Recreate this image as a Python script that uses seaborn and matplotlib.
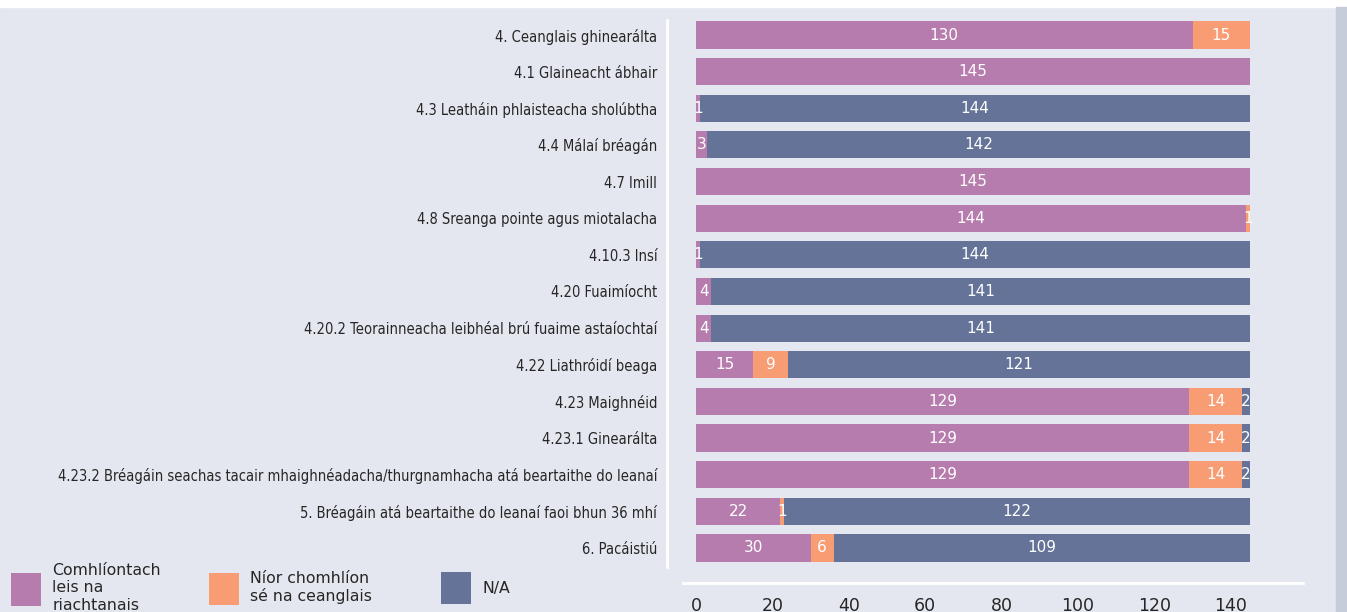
import numpy as np
import pandas as pd
import matplotlib.pyplot as plt
import matplotlib.patches as mpatches
import seaborn as sns

# ============================
# Data
# ============================

categories = [
    "4. Ceanglais ghinearálta",
    "4.1 Glaineacht ábhair",
    "4.3 Leatháin phlaisteacha sholúbtha",
    "4.4 Málaí bréagán",
    "4.7 Imill",
    "4.8 Sreanga pointe agus miotalacha",
    "4.10.3 Insí",
    "4.20 Fuaimíocht",
    "4.20.2 Teorainneacha leibhéal brú fuaime astaíochtaí",
    "4.22 Liathróidí beaga",
    "4.23 Maighnéid",
    "4.23.1 Ginearálta",
    "4.23.2 Bréagáin seachas tacair mhaighnéadacha/thurgnamhacha atá beartaithe do leanaí",
    "5. Bréagáin atá beartaithe do leanaí faoi bhun 36 mhí",
    "6. Pacáistiú",
]
compliant = [130, 145, 1, 3, 145, 144, 1, 4, 4, 15, 129, 129, 129, 22, 30]
non_compliant = [15, 0, 0, 0, 0, 1, 0, 0, 0, 9, 14, 14, 14, 1, 6]
not_applicable = [0, 0, 144, 142, 0, 0, 144, 141, 141, 121, 2, 2, 2, 122, 109]

series_names = ["Comhlíontach\nleis na\nriachtanais", "Níor chomhlíon\nsé na ceanglais", "N/A"]
series_colors = ["#B77CAE", "#F89C74", "#647397"]
x_ticks = [0, 20, 40, 60, 80, 100, 120, 140]

BG = "#E4E7EF"

# ============================
# Plot
# ============================

sns.set_style("white", {"axes.facecolor": BG, "figure.facecolor": BG})
plt.rcParams["font.family"] = ["DejaVu Sans"]

df = pd.DataFrame({
    "category": categories,
    "c": compliant,
    "n": non_compliant,
    "na": not_applicable,
})
df["cum1"] = df["c"]
df["cum2"] = df["c"] + df["n"]
df["cum3"] = df["c"] + df["n"] + df["na"]

fig = plt.figure(figsize=(13.47, 6.12), dpi=100)
W, H = 1347, 612
ax = fig.add_axes([683 / W, 1 - 567 / H, (1303 - 683) / W, (567 - 20) / H])

# stacked bars by overpainting cumulative totals
for col, color in zip(["cum3", "cum2", "cum1"], series_colors[::-1]):
    sns.barplot(data=df, x=col, y="category", order=categories, orient="y",
                color=color, saturation=1, width=0.74, linewidth=0, ax=ax)

# segment labels
for i in range(len(categories)):
    start = 0
    for vals in (compliant, non_compliant, not_applicable):
        v = vals[i]
        if v > 0:
            ax.text(start + v / 2, i, str(v), ha="center", va="center",
                    color="white", fontsize=11)
        start += v

ax.set_xlim(-3.4, 158.9)
ax.set_ylim(14.52, -0.41)
ax.set_xlabel("")
ax.set_ylabel("")
ax.set_xticks(x_ticks)

for side in ["top", "right"]:
    ax.spines[side].set_visible(False)
for side in ["left", "bottom"]:
    ax.spines[side].set_color("white")
    ax.spines[side].set_linewidth(2)
    ax.spines[side].set_position(("outward", 11.5))

ax.tick_params(axis="y", direction="in", length=11, width=1.5, color="white", pad=7)
ax.tick_params(axis="x", direction="in", length=12, width=1.5, color="white",
               pad=10, labelsize=12.5)
for lab in ax.get_yticklabels():
    lab.set_fontstretch("condensed")
    lab.set_fontsize(10.5)

# legend, one entry per block
legend_x = [10 / W, 208 / W, 440 / W]
for name, color, lx in zip(series_names, series_colors, legend_x):
    patch = mpatches.Patch(color=color, linewidth=0)
    fig.legend(handles=[patch], labels=[name], loc="center left",
               bbox_to_anchor=(lx - 0.01, 1 - 588 / H), frameon=False,
               fontsize=11.3, handlelength=1.95, handleheight=2.8,
               handletextpad=0.7, labelspacing=0)

# page decorations
fig.patches.append(mpatches.Rectangle((0, 1 - 7 / H), 1, 7 / H, transform=fig.transFigure,
                                      color="white", zorder=0))
fig.patches.append(mpatches.Rectangle((1336 / W, 0), 11 / W, 1 - 7 / H, transform=fig.transFigure,
                                      color="#C6CCDA", zorder=0))

fig.savefig("out.png", dpi=100, facecolor=BG)
